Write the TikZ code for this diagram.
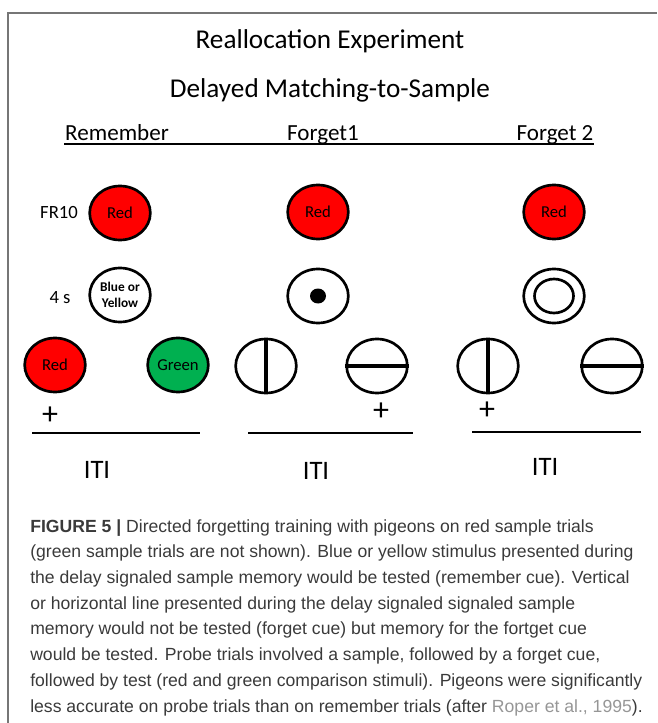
\documentclass[tikz,border=0pt]{standalone}
\usepackage{fontspec}
\setmainfont{Carlito}
\newfontfamily\capfont{Liberation Sans}
\usetikzlibrary{shapes.geometric,positioning}

\definecolor{keyred}{RGB}{255,0,0}
\definecolor{keygreen}{RGB}{0,176,80}
\definecolor{framegray}{RGB}{118,118,118}
\definecolor{captext}{RGB}{58,58,58}
\definecolor{citegray}{RGB}{150,150,150}

\tikzset{
  key/.style={ellipse, draw, line width=2pt, minimum width=45.5pt, minimum height=40.5pt,
    inner sep=0pt, align=center},
  redkey/.style={key, fill=keyred, font=\fontsize{12.5}{14}\selectfont},
  greenkey/.style={key, fill=keygreen, font=\fontsize{12.5}{14}\selectfont},
  head/.style={anchor=base, font=\fontsize{17.3}{20}\selectfont},
  rowlabel/.style={font=\fontsize{14}{16}\selectfont},
  iti/.style={font=\fontsize{20}{24}\selectfont},
  plus/.style={font=\fontsize{24}{28}\selectfont},
  bar/.style={line width=2.6pt},
  trial/.style={line width=1.5pt}
}

\begin{document}
\begin{tikzpicture}[x=0.75pt, y=-0.75pt]
\useasboundingbox (0,0) rectangle (657,723);

% Frame
\draw[framegray, line width=1.5pt] (8,723) -- (8,13) -- (657,13);

% Titles
\node[font=\fontsize{20.4}{24}\selectfont] (title) at (330,41) {Reallocation Experiment};
\node[font=\fontsize{20.4}{24}\selectfont] (subtitle) at (330,90) {Delayed Matching-to-Sample};

% Column headers
\node[head] (hrem) at (117,140.5) {Remember};
\node[head] (hfa) at (323,140.5) {Forget1};
\node[head] (hfb) at (555,140.5) {Forget 2};
\coordinate (ulA) at (64,144);
\coordinate (ulB) at (594,144);
\draw[line width=1.4pt] (ulA) -- (ulB);

% Samples
\node[redkey] (srem) at (120,213) {Red};
\node[redkey] (sfa) at (318,212) {Red};
\node[redkey] (sfb) at (554,212) {Red};
\node[rowlabel] (fr) at (59,213) {FR10};

% Delay cues
\node[key, font=\bfseries\fontsize{10}{12}\selectfont] (crem) at (120,295) {Blue or\\Yellow};
\node[key] (cfa) at (318,296) {};
\fill (cfa.center) ellipse [x radius=8, y radius=7.5];
\node[key] (cfb) at (554,296) {};
\draw[line width=2pt] (cfb.center) ellipse [x radius=19.5, y radius=17];
\node[rowlabel] (delay) at (60,298) {4 s};

% Comparisons
\node[redkey] (trem) at (55,365) {Red};
\node[greenkey] (grem) at (178,365) {Green};
\node[key] (vfa) at (266,366) {};
\draw[bar] (vfa.north) -- (vfa.south);
\node[key] (hfa2) at (377,366) {};
\draw[bar] (hfa2.west) -- (hfa2.east);
\node[key] (vfb) at (488,366) {};
\draw[bar] (vfb.north) -- (vfb.south);
\node[key] (hfb2) at (612,366) {};
\draw[bar] (hfb2.west) -- (hfb2.east);

% Correct choices
\node[plus] (prem) at (50,416) {+};
\node[plus] (pfa) at (381,412) {+};
\node[plus] (pfb) at (487,411) {+};

% Trial lines and ITI
\coordinate (lremA) at (32,433);  \coordinate (lremB) at (200,433);
\coordinate (lfaA) at (248,433);  \coordinate (lfaB) at (413,433);
\coordinate (lfbA) at (472,432);  \coordinate (lfbB) at (641,432);
\draw[trial] (lremA) -- (lremB);
\draw[trial] (lfaA) -- (lfaB);
\draw[trial] (lfbA) -- (lfbB);
\node[iti] (irem) at (97,470) {ITI};
\node[iti] (ifa) at (316,471) {ITI};
\node[iti] (ifb) at (545,467) {ITI};

% Caption
\node[anchor=north west, inner sep=0pt, align=left, text=captext,
  font=\capfont\fontsize{13.2}{19.3}\selectfont] (caption) at (30,519)
  {{\bfseries FIGURE 5 |} Directed forgetting training with pigeons on red sample trials\\
   (green sample trials are not shown). Blue or yellow stimulus presented during\\
   the delay signaled sample memory would be tested (remember cue). Vertical\\
   or horizontal line presented during the delay signaled signaled sample\\
   memory would not be tested (forget cue) but memory for the fortget cue\\
   would be tested. Probe trials involved a sample, followed by a forget cue,\\
   followed by test (red and green comparison stimuli). Pigeons were significantly\\
   less accurate on probe trials than on remember trials (after {\color{citegray}Roper et al., 1995}).};

\end{tikzpicture}
\end{document}
